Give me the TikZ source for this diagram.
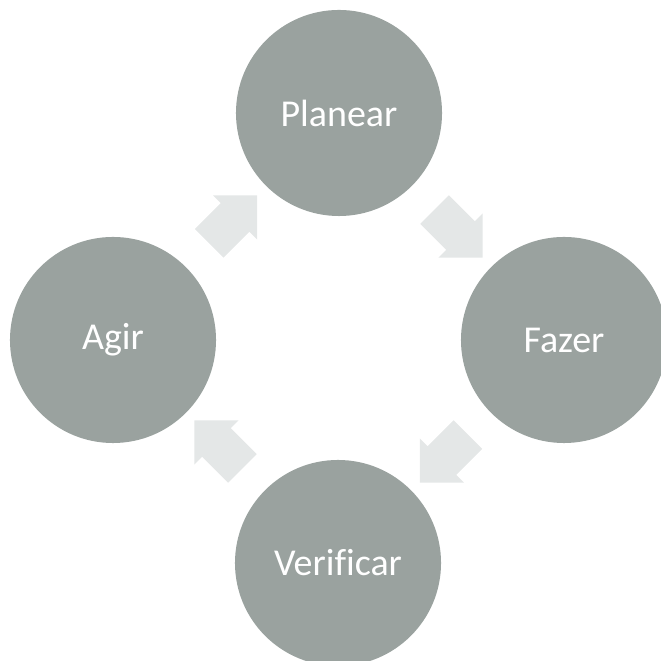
\documentclass[tikz,border=0pt]{standalone}
\usepackage{fontspec}
\setmainfont[Ligatures=NoCommon]{Carlito}
\usepackage{xcolor}
\usepackage{tikz}
\usetikzlibrary{shapes.arrows}
\usetikzlibrary{positioning}
\usetikzlibrary{calc}

\definecolor{phasegray}{RGB}{154,162,159}
\definecolor{arrowgray}{RGB}{228,231,231}

\begin{document}
\begin{tikzpicture}[
        x=0.025cm, y=0.025cm,
        phase/.style={circle,fill=phasegray,minimum size=5.15cm,inner sep=0pt,
          text=white,font=\fontsize{27}{30}\selectfont},
        cyclearrow/.style={single arrow,fill=arrowgray,inner xsep=0pt,inner ysep=0.5cm,
          minimum height=1.7cm,single arrow head extend=0.275cm}
        ]
        \useasboundingbox (0,0) rectangle (660,661);
        % the four phases
        \node[phase] (planear) at (339,548) {Planear};
        \node[phase] (fazer) at (564,321) {Fazer};
        \node[phase] (verificar) at (338,98) {Verificar};
        \node[phase] (agir) at (113,321) {Agir};
        % arrows between them
        \node[cyclearrow,rotate=45] (a1) at ($(agir)!0.5!(planear)$) {};
        \node[cyclearrow,rotate=-45] (a2) at ($(planear)!0.5!(fazer)$) {};
        \node[cyclearrow,rotate=-135] (a3) at ($(fazer)!0.5!(verificar)$) {};
        \node[cyclearrow,rotate=135] (a4) at ($(verificar)!0.5!(agir)$) {};
      \end{tikzpicture}
\end{document}
